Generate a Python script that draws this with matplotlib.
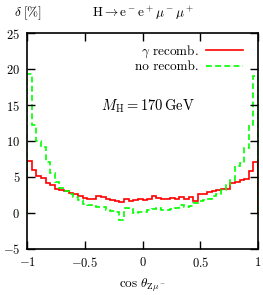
import numpy as np
import matplotlib
matplotlib.use("Agg")
import matplotlib.pyplot as plt

plt.rcParams["font.family"] = "serif"
plt.rcParams["font.serif"] = ["cmr10", "DejaVu Serif"]
plt.rcParams["mathtext.fontset"] = "cm"
plt.rcParams["axes.formatter.use_mathtext"] = True

# relative corrections in %, 50 bins in cos(theta) from -1 to 1
bin_lo, bin_hi, n_bins = -1.0, 1.0, 50
gamma_recomb = [7.2, 6.0, 5.2, 4.8, 4.1, 3.9, 3.4, 3.2, 3.0, 2.8,
                2.6, 2.4, 2.1, 2.0, 2.0, 2.3, 2.2, 2.0, 1.8, 1.6,
                1.5, 1.9, 1.7, 1.8, 1.9, 1.8, 1.9, 2.3, 2.1, 1.9,
                2.0, 2.1, 1.9, 2.2, 2.0, 2.2, 1.7, 2.7, 2.7, 2.9,
                3.0, 3.2, 3.3, 3.4, 4.1, 4.3, 4.6, 4.7, 5.9, 7.1]
no_recomb = [19.3, 12.2, 10.0, 9.2, 7.1, 5.5, 4.3, 3.5, 3.0, 2.7,
             2.2, 1.8, 1.3, 1.1, 1.0, 0.9, 0.8, 0.4, 0.3, 0.1,
             -1.0, 0.7, 0.6, 0.0, 0.1, 0.2, 0.4, 0.6, 0.7, 0.4,
             0.4, 0.5, 0.7, 1.1, 0.9, 1.0, 1.4, 1.6, 1.8, 2.0,
             2.3, 2.6, 3.2, 3.9, 4.6, 6.5, 7.0, 9.0, 12.2, 19.0]

edges = np.linspace(bin_lo, bin_hi, n_bins + 1)

fig = plt.figure(figsize=(2.63, 2.95), dpi=100)
ax = fig.add_axes([0.103, 0.156, 0.878, 0.732])

ax.stairs(gamma_recomb, edges, color="#ff0000", lw=1.2, label=r"$\gamma$ recomb.")
ax.stairs(no_recomb, edges, color="#00ff00", lw=1.2, ls=(0, (3.5, 2.0)),
          label="no recomb.")

ax.set_xlim(-1, 1)
ax.set_ylim(-5, 25)
ax.set_xticks([-1, -0.5, 0, 0.5, 1])
ax.set_xticklabels([r"$-1$", r"$-0.5$", r"$0$", r"$0.5$", r"$1$"])
ax.set_yticks([-5, 0, 5, 10, 15, 20, 25])
ax.set_yticklabels([r"$-5$", r"$0$", r"$5$", r"$10$", r"$15$", r"$20$", r"$25$"])
ax.tick_params(direction="in", length=6, width=1.0, top=True, right=True,
               labelsize=9, pad=5)
for s in ax.spines.values():
    s.set_linewidth(1.2)

ax.legend(loc="upper right", frameon=False, markerfirst=False, fontsize=9.5,
          handlelength=2.8, handletextpad=0.6, labelspacing=0.1,
          borderaxespad=0.3, bbox_to_anchor=(0.975, 0.995))

ax.text(0.525, 0.662, r"$M_{\rm H} = 170\,{\rm GeV}$", transform=ax.transAxes,
        ha="center", va="center", fontsize=10.5)

ax.set_xlabel(r"$\cos\,\theta_{{\rm Z}\mu^-}$", fontsize=9.5, labelpad=5)
fig.text(0.105, 0.955, r"$\delta\;[\%]$", ha="center", va="center", fontsize=9.5)
fig.text(0.545, 0.955, r"${\rm H}\rightarrow{\rm e}^-{\rm e}^+\mu^-\mu^+$",
         ha="center", va="center", fontsize=9.5)

fig.savefig("out.png", dpi=100)
